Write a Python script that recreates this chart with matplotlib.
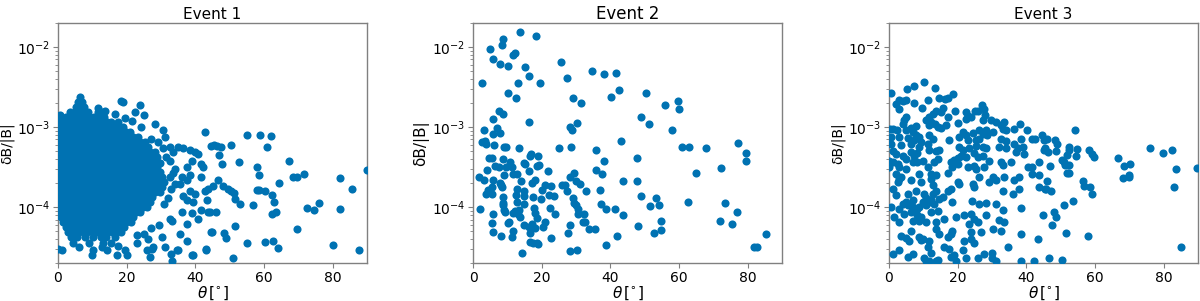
import matplotlib
matplotlib.use("Agg")
import matplotlib.pyplot as plt

BLUE = "#0072B2"
GREY = "#808080"

# Event 1: dense core, one row of theta values per dB/|B| level
e1_core_y = [2.05e-3, 1.78e-3, 1.55e-3, 1.33e-3, 1.15e-3, 1.0e-3, 8.7e-4, 7.5e-4,
             6.5e-4, 5.6e-4, 4.9e-4, 4.2e-4, 3.6e-4, 3.15e-4, 2.75e-4, 2.4e-4,
             2.05e-4, 1.78e-4, 1.55e-4, 1.33e-4, 1.15e-4, 1.0e-4, 8.7e-5, 7.5e-5,
             6.5e-5, 5.6e-5, 4.9e-5, 4.2e-5, 3.6e-5]
e1_core_x = [
    [5.9, 7.1],
    [5.2, 6.5, 7.7],
    [3.6, 4.9, 6.2, 7.5, 8.8, 11.6, 12.9],
    [0.9, 2.2, 3.7, 5.0, 6.4, 7.9, 9.2, 10.6, 12.0, 13.5],
    [0.3, 1.6, 3.1, 4.4, 5.8, 7.1, 8.6, 10.0, 11.3, 12.8, 14.2, 15.5],
    [0.9, 2.3, 3.6, 5.1, 6.5, 7.8, 9.3, 10.6, 12.1, 13.4, 14.9, 16.2, 17.7, 19.0],
    [0.2, 1.6, 3.0, 4.5, 5.8, 7.2, 8.5, 10.0, 11.4, 12.7, 14.2, 15.6, 17.0, 18.3, 19.8, 21.1],
    [0.9, 2.3, 3.7, 5.0, 6.5, 7.9, 9.2, 10.7, 12.0, 13.5, 14.9, 16.2, 17.7, 19.1, 20.4, 21.9, 23.2],
    [0.2, 1.6, 3.0, 4.4, 5.9, 7.2, 8.6, 10.0, 11.5, 12.8, 14.2, 15.6, 17.0, 18.4, 19.7, 21.2, 22.6, 24.0, 25.3],
    [0.9, 2.2, 3.7, 5.1, 6.4, 7.9, 9.3, 10.6, 12.1, 13.5, 14.8, 16.3, 17.7, 19.0, 20.5, 21.9, 23.2, 24.7, 26.1],
    [0.2, 1.6, 3.0, 4.5, 5.8, 7.2, 8.6, 10.1, 11.4, 12.8, 14.2, 15.7, 17.0, 18.4, 19.8, 21.3, 22.6, 24.0, 25.4, 26.8, 28.2],
    [0.9, 2.3, 3.6, 5.1, 6.5, 7.8, 9.3, 10.7, 12.0, 13.5, 14.9, 16.2, 17.7, 19.1, 20.4, 21.9, 23.3, 24.6, 26.1, 27.5, 28.9],
    [0.2, 1.6, 3.1, 4.4, 5.8, 7.3, 8.6, 10.0, 11.5, 12.8, 14.2, 15.7, 17.0, 18.4, 19.9, 21.2, 22.6, 24.1, 25.4, 26.8, 28.3, 29.6],
    [0.9, 2.2, 3.7, 5.0, 6.5, 7.9, 9.2, 10.7, 12.1, 13.4, 14.9, 16.3, 17.6, 19.1, 20.5, 21.8, 23.3, 24.7, 26.0, 27.5, 28.9],
    [0.2, 1.7, 3.0, 4.4, 5.9, 7.2, 8.6, 10.1, 11.4, 12.8, 14.3, 15.6, 17.0, 18.5, 19.8, 21.2, 22.7, 24.0, 25.4, 26.9, 28.2, 29.6],
    [0.9, 2.3, 3.6, 5.1, 6.5, 7.8, 9.3, 10.7, 12.0, 13.5, 14.9, 16.2, 17.7, 19.1, 20.4, 21.9, 23.3, 24.6, 26.1, 27.5, 28.8, 30.3],
    [0.2, 1.6, 3.1, 4.4, 5.8, 7.3, 8.6, 10.0, 11.5, 12.8, 14.2, 15.7, 17.0, 18.4, 19.9, 21.2, 22.6, 24.1, 25.4, 26.8, 28.3, 29.6, 31.0],
    [0.9, 2.2, 3.7, 5.0, 6.5, 7.9, 9.2, 10.7, 12.1, 13.4, 14.9, 16.3, 17.6, 19.1, 20.5, 21.8, 23.3, 24.7, 26.0, 27.5, 28.9, 30.2],
    [0.2, 1.7, 3.0, 4.4, 5.9, 7.2, 8.6, 10.1, 11.4, 12.8, 14.3, 15.6, 17.0, 18.5, 19.8, 21.2, 22.7, 24.0, 25.4, 26.9, 28.2, 29.6],
    [0.9, 2.3, 3.6, 5.1, 6.5, 7.8, 9.3, 10.7, 12.0, 13.5, 14.9, 16.2, 17.7, 19.1, 20.4, 21.9, 23.3, 24.6, 26.1, 27.4],
    [0.2, 1.6, 3.1, 4.4, 5.8, 7.3, 8.6, 10.0, 11.5, 12.8, 14.2, 15.7, 17.0, 18.4, 19.9, 21.2, 22.6, 24.1, 25.4, 26.8],
    [0.9, 2.2, 3.7, 5.0, 6.5, 7.9, 9.2, 10.7, 12.1, 13.4, 14.9, 16.3, 17.6, 19.1, 20.5, 21.8, 23.3, 24.7, 26.0],
    [0.2, 1.7, 3.0, 4.4, 5.9, 7.2, 8.6, 10.1, 11.4, 12.8, 14.3, 15.6, 17.0, 18.5, 19.8, 21.2, 22.7, 24.0],
    [0.9, 2.3, 3.6, 5.1, 6.5, 7.8, 9.3, 10.7, 12.0, 13.5, 14.9, 16.2, 17.7, 19.1, 20.4, 21.9],
    [1.6, 3.1, 4.4, 5.8, 7.3, 8.6, 10.0, 11.5, 12.8, 14.2, 15.7, 17.0, 18.4, 19.9, 21.2],
    [2.2, 3.7, 5.0, 6.5, 7.9, 9.2, 10.7, 12.1, 13.4, 14.9, 16.3, 17.6, 19.1],
    [3.0, 4.4, 5.9, 7.2, 8.6, 10.1, 11.4, 12.8, 14.3, 15.6, 17.0, 18.5],
    [3.7, 5.5, 8.0, 10.1, 12.4, 14.0, 16.5],
    [4.5, 9.0, 13.0, 15.5],
]

# Event 1: scattered points around and beyond the core
e1_theta = [6.4, 18.5, 19.0, 23.9, 22.4, 25.1, 11.7, 13.7, 16.6, 19.5, 21.6, 24.2, 28.3, 17.6, 0.6,
            30.7, 31.2, 32.6, 35.0, 36.5, 38.4, 39.9, 40.9, 33.6, 38.9, 41.8, 37.5, 34.1, 42.3, 41.8,
            38.4, 37.5, 32.6, 36.0, 34.1, 35.5, 43.8, 42.8, 38.4, 39.9, 36.5, 37.5, 39.4, 43.3, 41.8,
            43.8, 38.9, 36.0, 33.1, 32.6, 37.5, 35.5, 37.5, 40.9, 44.8, 43.0, 38.9, 33.1, 34.9, 30.2,
            26.3, 27.3, 27.8, 31.2, 25.8, 26.8, 22.9, 19.5, 20.0, 17.6, 17.1, 14.2, 12.7, 10.3, 9.8,
            6.1, 1.3, 0.1, 42.8, 22.9, 27.0, 29.5, 25.0, 31.0, 32.0, 33.0, 33.5, 32.5, 31.5, 30.5,
            29.0, 27.0, 39.4, 43.1, 32.8, 34.8,
            55.2, 58.9, 62.0, 61.0, 50.3, 44.5, 45.5, 46.2, 47.4, 46.9, 47.7, 52.8, 67.4, 58.1, 58.7,
            68.6, 69.7, 71.8, 82.2, 89.9, 46.7, 45.3, 48.0, 49.6, 50.3, 51.3, 58.1, 58.7, 60.3, 62.3,
            62.9, 64.4, 75.9, 74.6, 72.5, 82.2, 85.6, 51.6, 53.0, 56.7, 44.3, 46.0, 62.3, 63.5, 51.6,
            69.7, 44.5, 48.4, 49.0, 55.0, 60.3, 62.7, 64.2, 80.0, 87.7, 51.1]
e1_db = [2.4e-3, 2.1e-3, 2.05e-3, 1.87e-3, 1.54e-3, 1.4e-3, 1.74e-3, 1.58e-3, 1.47e-3, 1.3e-3, 1.2e-3, 1.0e-3, 1.1e-3, 1.15e-3, 1.4e-3,
         9.1e-4, 7.5e-4, 5.6e-4, 5.6e-4, 5.4e-4, 5.2e-4, 4.9e-4, 4.6e-4, 4.9e-4, 3.8e-4, 3.5e-4, 3.2e-4, 3.0e-4, 3.2e-4, 2.4e-4,
         2.5e-4, 2.15e-4, 2.4e-4, 2.4e-4, 1.96e-4, 1.96e-4, 1.7e-4, 1.6e-4, 1.6e-4, 1.47e-4, 1.36e-4, 1.21e-4, 1.15e-4, 1.24e-4, 9.1e-5,
         8.7e-5, 8.4e-5, 8.7e-5, 6.8e-5, 7.15e-5, 6.2e-5, 4.6e-5, 3.8e-5, 7.15e-5, 4.9e-5, 2.9e-5, 2.5e-5, 2.15e-5, 2.9e-5, 4.2e-5,
         4.0e-5, 3.0e-5, 3.2e-5, 3.2e-5, 2.9e-5, 2.4e-5, 3.55e-5, 2.9e-5, 2.5e-5, 3.3e-5, 2.5e-5, 2.9e-5, 3.2e-5, 2.9e-5, 2.5e-5,
         3.2e-5, 2.9e-5, 3.0e-5, 8.6e-4, 4.5e-5, 5.5e-5, 6.0e-5, 4.6e-5, 1.1e-4, 1.3e-4, 1.7e-4, 2.7e-4, 3.8e-4, 4.2e-4, 5.5e-4,
         6.5e-4, 7.0e-4, 2.5e-5, 3.0e-5, 2.6e-5, 2.9e-5,
         7.9e-4, 7.9e-4, 7.7e-4, 5.7e-4, 6.0e-4, 5.8e-4, 5.9e-4, 5.8e-4, 5.7e-4, 4.5e-4, 3.5e-4, 3.65e-4, 3.75e-4, 3.2e-4, 2.5e-4,
         2.4e-4, 2.4e-4, 2.6e-4, 2.3e-4, 2.9e-4, 2.2e-4, 1.83e-4, 1.83e-4, 1.7e-4, 1.6e-4, 1.5e-4, 1.65e-4, 1.65e-4, 1.6e-4, 1.4e-4,
         1.15e-4, 2.0e-4, 1.12e-4, 9.1e-5, 9.8e-5, 9.4e-5, 1.7e-4, 1.25e-4, 1.1e-4, 1.07e-4, 8.8e-5, 8.8e-5, 8.25e-5, 8.7e-5, 5.8e-5,
         5.3e-5, 4.9e-5, 4.8e-5, 4.1e-5, 3.55e-5, 3.7e-5, 3.8e-5, 3.1e-5, 3.4e-5, 2.9e-5, 2.3e-5]

# Event 2
e2_theta = [13.7, 18.3, 8.8, 8.3, 4.8, 12.2, 11.7, 5.9, 7.9, 10.3, 25.6, 15.1, 16.4, 34.6, 38.0, 41.6,
            2.5, 13.0, 19.4, 27.5, 42.5, 10.1, 12.5, 29.0, 31.5, 40.2, 7.7, 8.6, 5.9, 16.3, 30.4, 28.3,
            3.2, 6.9, 7.9, 28.7, 5.7, 43.1, 2.5, 3.5, 3.8, 6.1, 9.1, 9.6, 13.3, 25.0, 28.5, 35.8,
            4.7, 5.4, 16.8, 16.6, 18.8, 8.6, 10.8, 14.9, 15.1, 38.2, 6.4, 7.7, 9.6, 11.3, 18.5, 19.3,
            4.2, 16.4, 21.8, 35.8, 37.7, 29.4, 11.7, 12.7, 9.0, 1.8, 3.2, 5.7, 14.0, 28.1, 30.0, 31.2,
            43.8, 17.2, 18.1, 7.9, 8.1, 8.5, 21.0, 22.7, 25.8, 26.8, 4.5, 5.5, 12.7, 14.7, 20.0, 27.3,
            32.9, 37.0, 3.8, 5.4, 8.8, 12.5, 14.9, 17.6, 19.7, 22.1, 23.6, 29.2, 8.6, 8.8, 12.7, 14.7,
            29.5, 30.0, 37.4, 2.0, 9.0, 12.2, 13.5, 17.8, 22.4, 30.5, 38.7, 41.4, 5.7, 9.3, 11.7, 13.2,
            13.7, 18.1, 23.9, 30.7, 32.3, 43.8, 18.7, 10.6, 10.3, 5.6, 17.1, 21.0, 14.7, 16.4, 18.1, 20.5,
            28.3, 32.6, 32.1, 33.8, 35.5, 11.7, 5.9, 16.6, 27.8, 8.1, 11.3, 22.6, 41.8, 16.6, 17.6, 18.5,
            19.0, 14.2, 28.1, 30.2, 38.6,
            50.3, 56.0, 59.8, 60.0, 49.0, 51.3, 57.9, 61.0, 62.9, 67.8, 77.1, 79.5, 79.6, 47.8, 65.0, 72.2,
            47.8, 49.0, 53.2, 51.6, 54.3, 62.5, 73.4, 76.9, 54.6, 71.8, 75.5, 48.1, 54.7, 52.7, 85.3, 81.7,
            82.8]
e2_db = [1.54e-2, 1.36e-2, 1.27e-2, 1.05e-2, 9.4e-3, 8.4e-3, 8.0e-3, 7.1e-3, 6.1e-3, 5.8e-3, 6.5e-3, 5.6e-3, 4.4e-3, 5.0e-3, 4.6e-3, 4.7e-3,
         3.6e-3, 3.5e-3, 3.5e-3, 4.1e-3, 2.9e-3, 2.7e-3, 2.3e-3, 2.3e-3, 2.0e-3, 2.4e-3, 1.58e-3, 1.47e-3, 1.26e-3, 1.15e-3, 1.12e-3, 1.0e-3,
         9.3e-4, 9.7e-4, 8.5e-4, 9.1e-4, 8.1e-4, 6.7e-4, 6.5e-4, 6.7e-4, 6.2e-4, 6.0e-4, 5.7e-4, 5.7e-4, 5.4e-4, 5.5e-4, 5.7e-4, 5.2e-4,
         4.1e-4, 4.1e-4, 4.6e-4, 4.4e-4, 4.4e-4, 4.0e-4, 3.7e-4, 3.6e-4, 3.5e-4, 3.8e-4, 3.3e-4, 3.2e-4, 3.2e-4, 3.2e-4, 3.3e-4, 3.4e-4,
         2.9e-4, 2.8e-4, 2.8e-4, 2.9e-4, 2.6e-4, 2.7e-4, 2.6e-4, 2.6e-4, 2.5e-4, 2.4e-4, 2.15e-4, 2.2e-4, 2.1e-4, 2.4e-4, 2.1e-4, 1.96e-4,
         2.1e-4, 2.0e-4, 2.2e-4, 2.0e-4, 1.87e-4, 1.78e-4, 1.9e-4, 1.83e-4, 1.87e-4, 1.9e-4, 1.65e-4, 1.78e-4, 1.7e-4, 1.6e-4, 1.65e-4, 1.6e-4,
         1.6e-4, 1.65e-4, 1.44e-4, 1.47e-4, 1.33e-4, 1.4e-4, 1.36e-4, 1.33e-4, 1.27e-4, 1.43e-4, 1.37e-4, 1.31e-4, 1.12e-4, 1.07e-4, 1.15e-4, 1.08e-4,
         1.12e-4, 1.05e-4, 1.1e-4, 9.5e-5, 9.1e-5, 8.9e-5, 9.3e-5, 9.8e-5, 9.8e-5, 9.5e-5, 9.5e-5, 9.35e-5, 8.25e-5, 8.7e-5, 8.5e-5, 8.25e-5,
         7.5e-5, 8.4e-5, 8.25e-5, 8.1e-5, 8.25e-5, 7.9e-5, 7.3e-5, 6.6e-5, 6.3e-5, 6.4e-5, 6.2e-5, 6.6e-5, 5.9e-5, 5.6e-5, 5.5e-5, 5.6e-5,
         5.9e-5, 6.5e-5, 6.5e-5, 5.3e-5, 5.3e-5, 5.0e-5, 4.9e-5, 4.8e-5, 4.8e-5, 4.3e-5, 4.2e-5, 4.1e-5, 4.4e-5, 3.7e-5, 3.6e-5, 3.55e-5,
         3.5e-5, 2.7e-5, 2.8e-5, 2.9e-5, 3.4e-5,
         2.7e-3, 1.9e-3, 2.1e-3, 1.66e-3, 1.33e-3, 1.08e-3, 9.3e-4, 5.6e-4, 5.6e-4, 5.4e-4, 6.3e-4, 4.8e-4, 3.8e-4, 4.1e-4, 2.7e-4, 3.1e-4,
         2.1e-4, 1.36e-4, 1.3e-4, 1.04e-4, 1.07e-4, 1.17e-4, 1.14e-4, 8.6e-5, 6.7e-5, 6.7e-5, 6.1e-5, 5.8e-5, 5.2e-5, 4.8e-5, 4.6e-5, 3.2e-5,
         3.2e-5]

# Event 3
e3_theta = [10.1, 7.4, 5.2, 13.5, 0.5, 18.7, 14.7, 16.4, 17.1, 11.4, 3.0, 4.0, 5.0, 7.4, 2.0, 9.6,
            2.8, 19.2, 13.7, 22.4, 25.1, 25.8, 27.1, 27.8, 22.9, 23.9, 15.6, 15.1, 12.7, 11.7, 10.8, 5.1,
            4.5, 4.0, 17.1, 16.6, 20.0, 22.4, 29.7, 31.2, 33.6, 28.1, 27.3, 32.6, 38.2, 36.5, 40.1, 12.2,
            11.6, 13.4, 14.2, 15.3, 7.9, 6.4, 5.0, 6.9, 1.1, 2.2, 0.3, 21.5, 24.4, 26.3, 27.3, 28.3,
            30.2, 33.1, 34.1, 7.9, 8.8, 0.6, 3.0, 5.4, 7.4, 9.3, 11.7, 12.7, 17.6, 20.3, 22.4, 22.9,
            25.3, 26.3, 28.7, 32.6, 34.1, 38.4, 41.8, 42.5, 44.6, 45.2, 0.6, 3.5, 6.4, 8.8, 11.3, 11.7,
            13.7, 14.7, 20.3, 21.5, 23.4, 25.3, 27.3, 28.3, 32.1, 34.1, 36.5, 37.5, 38.9, 45.2, 1.1, 2.0,
            4.0, 6.4, 7.4, 8.3, 5.0, 0.1, 1.3, 2.5, 6.9, 8.3, 9.8, 13.2, 14.2, 18.1, 19.0, 20.0,
            21.0, 22.4, 24.9, 25.8, 27.3, 29.2, 32.6, 33.1, 35.5, 37.0, 39.4, 40.4, 41.8, 43.8, 0.1, 3.0,
            5.0, 8.8, 11.3, 12.2, 13.7, 17.1, 18.5, 20.0, 22.9, 24.9, 25.3, 27.8, 30.2, 31.2, 33.6, 36.5,
            38.0, 41.8, 43.8, 2.0, 3.5, 3.0, 2.5, 1.1, 6.4, 9.3, 12.2, 12.7, 17.1, 18.1, 20.0, 20.5,
            24.4, 24.9, 26.3, 29.2, 33.1, 38.0, 36.0, 43.8, 45.7, 2.0, 5.4, 6.9, 7.9, 10.3, 10.8, 11.6,
            12.7, 14.7, 13.7, 12.2, 13.2, 15.6, 10.8, 9.8, 8.8, 4.0, 5.0, 5.4, 6.9, 8.3, 6.4, 0.6,
            3.0, 4.5, 8.3, 9.3, 12.2, 14.2, 18.5, 24.2, 26.1, 28.3, 31.2, 38.4, 44.8, 1.6, 3.0, 6.9,
            8.8, 10.8, 13.7, 16.1, 19.5, 21.9, 23.9, 24.9, 25.8, 23.4, 28.3, 32.1, 33.1, 33.6, 3.5, 5.0,
            5.9, 8.8, 9.3, 9.8, 6.4, 11.7, 13.7, 14.7, 17.1, 18.1, 18.5, 21.9, 23.9, 26.8, 30.2, 32.6,
            34.6, 38.4, 43.3, 1.1, 3.0, 5.4, 6.9, 11.3, 12.2, 10.3, 10.8, 11.7, 13.7, 14.2, 16.1, 17.6,
            18.1, 19.0, 19.5, 21.5, 22.4, 23.9, 24.9, 25.8, 27.8, 30.0, 30.0, 31.2, 38.4, 42.3,
            54.3, 45.9, 48.4, 49.0, 52.3, 52.3, 54.7, 48.7, 45.5, 46.4, 58.4, 59.0, 59.7, 54.5, 52.0, 46.9,
            50.3, 51.0, 51.3, 52.5, 51.8, 52.5, 66.8, 68.5, 70.2, 68.1, 70.0, 70.0, 76.0, 79.9, 82.3, 83.5,
            89.6, 83.0, 56.4, 56.8, 58.6, 59.2, 45.9, 45.5, 47.2, 53.5, 51.1, 48.1, 48.6, 47.6, 51.6, 58.0,
            85.0, 46.5, 50.5]
e3_db = [3.65e-3, 3.3e-3, 3.0e-3, 3.1e-3, 2.66e-3, 2.6e-3, 2.3e-3, 2.26e-3, 2.3e-3, 2.15e-3, 2.15e-3, 2.1e-3, 2.2e-3, 2.0e-3, 1.96e-3, 1.74e-3,
         1.7e-3, 1.6e-3, 1.58e-3, 1.54e-3, 1.58e-3, 1.6e-3, 1.87e-3, 1.7e-3, 1.37e-3, 1.33e-3, 1.73e-3, 1.54e-3, 1.47e-3, 1.33e-3, 1.24e-3, 1.33e-3,
         1.21e-3, 1.1e-3, 1.33e-3, 1.06e-3, 1.13e-3, 1.27e-3, 1.24e-3, 1.15e-3, 1.15e-3, 1.4e-3, 1.21e-3, 1.07e-3, 1.08e-3, 9.5e-4, 9.3e-4, 1.15e-3,
         1.05e-3, 1.1e-3, 1.0e-3, 9.8e-4, 1.02e-3, 9.8e-4, 9.3e-4, 8.7e-4, 9.5e-4, 9.3e-4, 9.5e-4, 8.6e-4, 8.4e-4, 9.1e-4, 8.25e-4, 9.1e-4,
         8.7e-4, 9.5e-4, 9.1e-4, 7.9e-4, 7.6e-4, 7.5e-4, 7.5e-4, 7.35e-4, 6.8e-4, 6.5e-4, 7.9e-4, 7.15e-4, 6.95e-4, 7.6e-4, 7.9e-4, 6.95e-4,
         6.8e-4, 7.15e-4, 7.9e-4, 7.15e-4, 6.7e-4, 7.15e-4, 7.15e-4, 7.1e-4, 7.9e-4, 6.8e-4, 6.1e-4, 5.9e-4, 6.2e-4, 5.6e-4, 6.1e-4, 5.1e-4,
         5.0e-4, 5.2e-4, 5.6e-4, 5.2e-4, 5.5e-4, 5.85e-4, 5.7e-4, 5.5e-4, 5.6e-4, 5.4e-4, 6.2e-4, 5.4e-4, 5.7e-4, 5.1e-4, 5.0e-4, 4.6e-4,
         4.4e-4, 4.9e-4, 4.4e-4, 4.7e-4, 4.0e-4, 3.8e-4, 3.65e-4, 3.5e-4, 3.65e-4, 3.65e-4, 3.8e-4, 3.65e-4, 4.0e-4, 3.65e-4, 3.9e-4, 4.1e-4,
         4.4e-4, 4.2e-4, 4.7e-4, 4.2e-4, 4.4e-4, 3.75e-4, 3.65e-4, 3.4e-4, 3.65e-4, 4.9e-4, 4.6e-4, 3.2e-4, 3.2e-4, 3.65e-4, 3.2e-4, 3.2e-4,
         3.0e-4, 2.6e-4, 3.2e-4, 2.6e-4, 2.5e-4, 2.7e-4, 3.2e-4, 3.5e-4, 3.2e-4, 3.3e-4, 3.0e-4, 3.2e-4, 2.4e-4, 2.2e-4, 2.4e-4, 2.15e-4,
         2.4e-4, 2.6e-4, 2.5e-4, 2.6e-4, 2.4e-4, 2.26e-4, 2.05e-4, 1.7e-4, 2.15e-4, 2.05e-4, 2.26e-4, 1.87e-4, 1.58e-4, 1.7e-4, 2.05e-4, 1.96e-4,
         1.96e-4, 1.78e-4, 2.4e-4, 2.05e-4, 1.6e-4, 1.7e-4, 1.44e-4, 1.78e-4, 1.7e-4, 1.4e-4, 1.47e-4, 1.21e-4, 1.6e-4, 1.47e-4, 1.31e-4, 1.15e-4,
         1.44e-4, 1.27e-4, 1.6e-4, 1.21e-4, 1.1e-4, 1.33e-4, 1.05e-4, 1.15e-4, 1.0e-4, 1.1e-4, 1.15e-4, 1.05e-4, 1.0e-4, 9.5e-5, 8.7e-5, 1.0e-4,
         9.5e-5, 8.25e-5, 7.9e-5, 7.5e-5, 8.7e-5, 8.9e-5, 1.15e-4, 1.19e-4, 1.1e-4, 1.12e-4, 1.1e-4, 9.8e-5, 7.9e-5, 7.5e-5, 6.5e-5, 6.8e-5,
         6.8e-5, 6.5e-5, 6.5e-5, 7.15e-5, 7.5e-5, 7.9e-5, 8.1e-5, 7.15e-5, 6.5e-5, 6.2e-5, 7.9e-5, 6.95e-5, 9.1e-5, 6.5e-5, 4.4e-5, 4.1e-5,
         3.8e-5, 4.2e-5, 3.9e-5, 4.0e-5, 5.1e-5, 3.8e-5, 5.4e-5, 4.6e-5, 4.2e-5, 4.6e-5, 5.0e-5, 3.8e-5, 4.9e-5, 4.9e-5, 5.4e-5, 5.1e-5,
         3.2e-5, 4.6e-5, 4.0e-5, 2.6e-5, 2.9e-5, 2.4e-5, 2.6e-5, 3.2e-5, 2.7e-5, 2.3e-5, 2.15e-5, 2.1e-5, 2.15e-5, 2.2e-5, 3.2e-5, 3.0e-5,
         2.4e-5, 2.5e-5, 2.1e-5, 2.9e-5, 2.3e-5, 4.0e-5, 3.55e-5, 2.3e-5, 2.6e-5, 2.7e-5, 2.3e-5, 2.1e-5, 2.1e-5, 2.1e-5,
         9.1e-4, 7.15e-4, 6.8e-4, 6.1e-4, 5.7e-4, 5.1e-4, 5.3e-4, 5.0e-4, 5.4e-4, 4.9e-4, 5.2e-4, 4.6e-4, 4.2e-4, 4.3e-4, 4.5e-4, 3.3e-4,
         3.9e-4, 3.65e-4, 3.4e-4, 3.4e-4, 2.7e-4, 2.7e-4, 4.1e-4, 3.3e-4, 3.5e-4, 2.3e-4, 2.5e-4, 2.4e-4, 5.5e-4, 4.8e-4, 5.1e-4, 3.0e-4,
         3.1e-4, 1.8e-4, 2.1e-4, 1.83e-4, 1.8e-4, 1.45e-4, 2.1e-4, 1.7e-4, 1.58e-4, 1.18e-4, 1.06e-4, 8.8e-5, 7.5e-5, 5.9e-5, 4.8e-5, 4.3e-5,
         3.2e-5, 2.3e-5, 2.2e-5]

# flatten the Event 1 core rows and append the scattered points
e1_x = [x for row in e1_core_x for x in row] + e1_theta
e1_y = [y for y, row in zip(e1_core_y, e1_core_x) for _ in row] + e1_db

# title, data, left edge, title size, y label size
panels = [
    ("Event 1", e1_x, e1_y, 0.0483, 11, 10),
    ("Event 2", e2_theta, e2_db, 0.3942, 12, 11),
    ("Event 3", e3_theta, e3_db, 0.7408, 11, 10),
]

fig = plt.figure(figsize=(12, 3.01), dpi=100)
for title, xs, ys, left, tsize, ysize in panels:
    ax = fig.add_axes([left, 0.126, 0.2575, 0.798])
    ax.scatter(xs, ys, s=34, color=BLUE, linewidths=0, zorder=3)
    ax.set_yscale("log")
    ax.set_ylim(2e-5, 2e-2)
    ax.set_xlim(0, 90)
    ax.set_xticks([0, 20, 40, 60, 80])
    ax.set_title(title, fontsize=tsize, pad=3)
    ax.set_xlabel(r"$\theta\,[^{\circ}]$", fontsize=11, labelpad=0)
    ax.set_ylabel("δB/|B|", fontsize=ysize, labelpad=2)
    ax.tick_params(which="both", color=GREY, labelsize=10, pad=2)
    ax.tick_params(which="major", length=3.5)
    ax.tick_params(which="minor", length=2)
    for sp in ax.spines.values():
        sp.set_color(GREY)
        sp.set_linewidth(1.0)

fig.savefig("out.png", dpi=100)
